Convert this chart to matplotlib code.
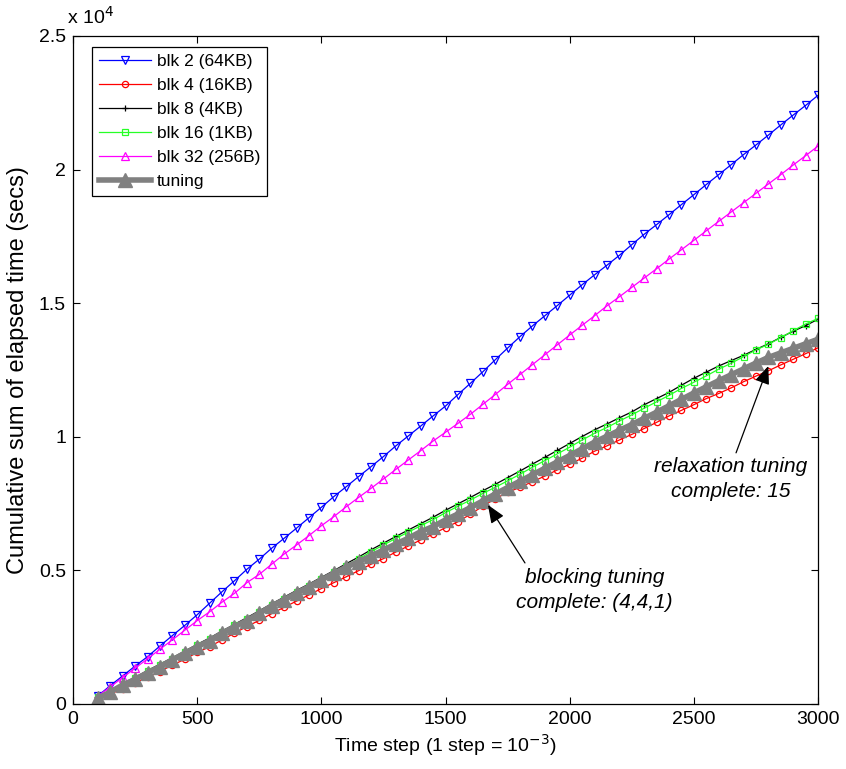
import matplotlib
matplotlib.use("Agg")
import matplotlib.pyplot as plt
from matplotlib.ticker import FixedLocator

plt.rcParams['font.family'] = ['Liberation Sans', 'DejaVu Sans']

# time steps (sampled every 50 steps)
steps = [100, 150, 200, 250, 300, 350, 400, 450, 500, 550,
         600, 650, 700, 750, 800, 850, 900, 950, 1000, 1050,
         1100, 1150, 1200, 1250, 1300, 1350, 1400, 1450, 1500, 1550,
         1600, 1650, 1700, 1750, 1800, 1850, 1900, 1950, 2000, 2050,
         2100, 2150, 2200, 2250, 2300, 2350, 2400, 2450, 2500, 2550,
         2600, 2650, 2700, 2750, 2800, 2850, 2900, 2950, 3000]

# cumulative elapsed time, in units of 10^4 secs
blk2 = [0.030, 0.069, 0.105, 0.142, 0.177, 0.217, 0.256, 0.294, 0.334, 0.377,
        0.420, 0.461, 0.504, 0.542, 0.583, 0.620, 0.658, 0.697, 0.736, 0.776,
        0.813, 0.851, 0.888, 0.926, 0.966, 1.003, 1.040, 1.078, 1.115, 1.158,
        1.200, 1.243, 1.288, 1.332, 1.375, 1.415, 1.453, 1.491, 1.530, 1.569,
        1.606, 1.642, 1.679, 1.719, 1.758, 1.794, 1.831, 1.869, 1.906, 1.944,
        1.981, 2.018, 2.056, 2.092, 2.129, 2.167, 2.204, 2.240, 2.278]
blk4 = [0.020, 0.037, 0.057, 0.080, 0.100, 0.121, 0.146, 0.167, 0.193, 0.214,
        0.240, 0.265, 0.290, 0.313, 0.338, 0.362, 0.385, 0.408, 0.432, 0.454,
        0.476, 0.499, 0.523, 0.544, 0.569, 0.591, 0.614, 0.636, 0.660, 0.682,
        0.710, 0.740, 0.768, 0.792, 0.811, 0.832, 0.853, 0.876, 0.897, 0.920,
        0.946, 0.966, 0.988, 1.009, 1.031, 1.054, 1.078, 1.099, 1.120, 1.143,
        1.162, 1.183, 1.206, 1.227, 1.247, 1.269, 1.290, 1.311, 1.333]
blk8 = [0.026, 0.051, 0.077, 0.100, 0.125, 0.149, 0.173, 0.198, 0.223, 0.247,
        0.273, 0.298, 0.323, 0.349, 0.375, 0.400, 0.425, 0.449, 0.474, 0.499,
        0.525, 0.550, 0.577, 0.602, 0.627, 0.651, 0.675, 0.699, 0.725, 0.749,
        0.773, 0.798, 0.822, 0.847, 0.872, 0.898, 0.923, 0.949, 0.975, 1.001,
        1.026, 1.048, 1.071, 1.093, 1.120, 1.143, 1.166, 1.193, 1.219, 1.242,
        1.265, 1.285, 1.305, 1.327, 1.348, 1.372, 1.395, 1.416, 1.440]
blk16 = [0.025, 0.050, 0.075, 0.098, 0.122, 0.146, 0.170, 0.195, 0.219, 0.243,
         0.269, 0.294, 0.318, 0.344, 0.370, 0.394, 0.419, 0.443, 0.468, 0.493,
         0.518, 0.543, 0.570, 0.595, 0.620, 0.643, 0.667, 0.690, 0.716, 0.740,
         0.763, 0.788, 0.811, 0.835, 0.860, 0.886, 0.911, 0.936, 0.961, 0.988,
         1.013, 1.035, 1.059, 1.082, 1.107, 1.131, 1.155, 1.181, 1.204, 1.228,
         1.253, 1.275, 1.300, 1.325, 1.346, 1.371, 1.397, 1.422, 1.443]
blk32 = [0.030, 0.064, 0.099, 0.134, 0.169, 0.205, 0.240, 0.276, 0.312, 0.345,
         0.381, 0.414, 0.454, 0.485, 0.523, 0.561, 0.595, 0.630, 0.667, 0.701,
         0.738, 0.773, 0.807, 0.842, 0.878, 0.913, 0.948, 0.984, 1.017, 1.050,
         1.084, 1.121, 1.158, 1.196, 1.233, 1.270, 1.307, 1.344, 1.381, 1.417,
         1.453, 1.490, 1.524, 1.559, 1.594, 1.629, 1.665, 1.700, 1.735, 1.771,
         1.806, 1.841, 1.876, 1.911, 1.946, 1.981, 2.017, 2.052, 2.088]
tuning = [0.021, 0.045, 0.071, 0.092, 0.117, 0.140, 0.165, 0.190, 0.214, 0.237,
          0.265, 0.289, 0.312, 0.339, 0.367, 0.390, 0.415, 0.439, 0.464, 0.489,
          0.512, 0.533, 0.554, 0.576, 0.599, 0.620, 0.645, 0.664, 0.689, 0.711,
          0.735, 0.760, 0.786, 0.810, 0.834, 0.858, 0.882, 0.906, 0.930, 0.955,
          0.980, 1.002, 1.024, 1.046, 1.069, 1.092, 1.116, 1.140, 1.164, 1.187,
          1.210, 1.232, 1.254, 1.276, 1.297, 1.314, 1.331, 1.348, 1.365]

labels = ["blk 2 (64KB)", "blk 4 (16KB)", "blk 8 (4KB)", "blk 16 (1KB)",
          "blk 32 (256B)", "tuning"]

FONT_SIZE = 14

fig = plt.figure(figsize=(8.46, 7.69), dpi=100)
ax = fig.add_axes([73 / 846, 65 / 769, 745 / 846, 668 / 769])

ax.plot(steps, blk2, color=(0, 0, 1), lw=0.9, marker='v', ms=5.5, mfc='none', mew=0.9, label=labels[0])
ax.plot(steps, blk4, color=(1, 0, 0), lw=0.9, marker='o', ms=4.5, mfc='none', mew=0.9, label=labels[1])
ax.plot(steps, blk8, color='black', lw=0.9, marker='+', ms=4.5, mew=0.9, label=labels[2])
ax.plot(steps, blk16, color=(0.15, 1, 0.15), lw=0.9, marker='s', ms=4.5, mfc='none', mew=0.9, label=labels[3])
ax.plot(steps, blk32, color=(1, 0, 1), lw=0.9, marker='^', ms=5.5, mfc='none', mew=0.9, label=labels[4])
ax.plot(steps, tuning, color=(0.5, 0.5, 0.5), lw=4, marker='^', ms=10, label=labels[5])

ax.set_xlim(0, 3000)
ax.set_ylim(0, 2.5)
ax.xaxis.set_major_locator(FixedLocator([0, 500, 1000, 1500, 2000, 2500, 3000]))
ax.yaxis.set_major_locator(FixedLocator([0, 0.5, 1, 1.5, 2, 2.5]))
ax.set_yticklabels(["0", "0.5", "1", "1.5", "2", "2.5"])
ax.tick_params(direction='in', top=True, right=True, length=5, width=0.8,
               labelsize=FONT_SIZE, pad=5)
for sp in ax.spines.values():
    sp.set_linewidth(0.9)

ax.set_xlabel(r"Time step (1 step = 10$^{-3}$)", fontsize=FONT_SIZE, labelpad=3)
ax.set_ylabel("Cumulative sum of elapsed time (secs)", fontsize=17, labelpad=7)
ax.text(-0.008, 1.012, r"x 10$^{4}$", transform=ax.transAxes, fontsize=FONT_SIZE,
        ha='left', va='bottom')

leg = ax.legend(loc='upper left', bbox_to_anchor=(0.0255, 0.9835), borderaxespad=0,
                fontsize=12.5, fancybox=False, edgecolor='black', framealpha=1,
                handlelength=3.0, handletextpad=0.3, labelspacing=0.5, borderpad=0.42)
leg.get_frame().set_linewidth(0.9)

arrow = dict(arrowstyle='-|>,head_length=1.1,head_width=0.45', color='black',
             lw=0.9, shrinkA=0, shrinkB=0)
ax.annotate("", xy=(2800, 1.265), xytext=(2670, 0.94), arrowprops=arrow)
ax.text(2650, 0.842, "relaxation tuning\ncomplete: 15", fontsize=15, style='italic',
        ha='center', va='center', linespacing=1.45)
ax.annotate("", xy=(1671, 0.745), xytext=(1820, 0.528), arrowprops=arrow)
ax.text(2100, 0.427, "blocking tuning\ncomplete: (4,4,1)", fontsize=15, style='italic',
        ha='center', va='center', linespacing=1.45)

fig.savefig("out.png", dpi=100)
